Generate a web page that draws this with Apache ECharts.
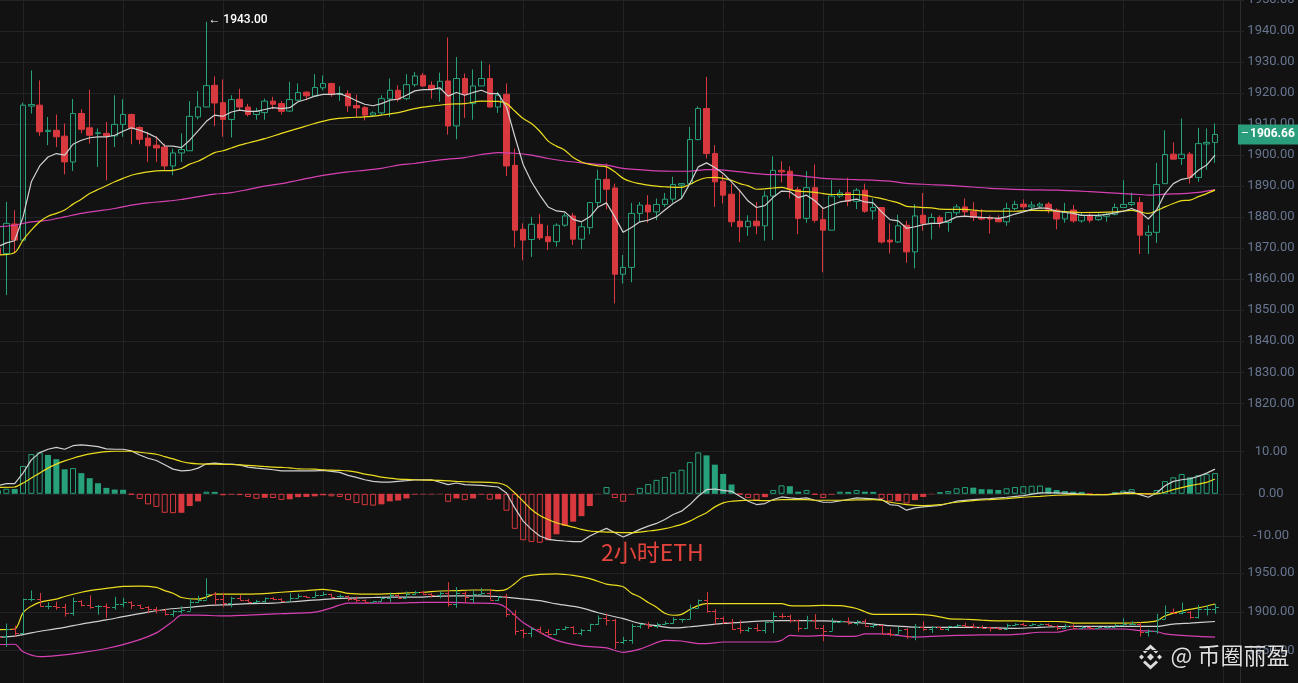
<!DOCTYPE html>
<html><head><meta charset="utf-8">
<script src="https://cdn.jsdelivr.net/npm/echarts/dist/echarts.min.js"></script>
<style>html,body{margin:0;padding:0;background:#121212;}#c{width:1298px;height:683px;}</style>
</head><body><div id="c"></div>
<script>
// ---------- data (2h ETH candles) ----------
const opens = [1870,1868.3,1877.8,1872.6,1915.8,1916.1,1907.6,1908,1906.1,1897.8,
1913.4,1908.8,1907,1907,1906.2,1909.9,1913.1,1908.9,1905.5,1903.2,
1902.6,1896.5,1900.7,1901.4,1912.3,1915.5,1922.5,1916.9,1911.5,1918,
1915.5,1913.1,1913.7,1917.4,1916.6,1914.2,1917.7,1920.3,1919,1921.7,
1923.1,1919.6,1919.8,1916,1915.3,1912.9,1913.6,1918.1,1920.9,1918.2,
1922.7,1925.7,1922.5,1921.2,1923.9,1909.4,1924.7,1916.6,1922.3,1924.7,
1915.5,1919.6,1896.7,1876.1,1872.8,1877.7,1873.7,1872.1,1877.4,1880.4,
1872.9,1876.6,1884.7,1892.2,1889.4,1861.6,1863.8,1881.2,1883.9,1881.7,
1884.1,1885.8,1890.3,1890.8,1905,1915,1900.5,1891.6,1887.4,1878.7,
1876.9,1878.7,1877.2,1886.8,1895.1,1894.8,1888.9,1879.6,1889.5,1879.2,
1875.8,1886.8,1887.9,1885.1,1888.7,1882,1883.1,1872.6,1872,1877.4,
1868.8,1880.6,1878,1879.9,1878.3,1881.4,1883.3,1881.9,1879.9,1879.9,
1879.6,1878.5,1882.8,1884.2,1883.3,1883.6,1884.2,1882.3,1879.4,1882.3,
1878.8,1880.6,1879.2,1880.3,1880.9,1883.1,1884.1,1884.7,1874.2,1875.1,
1890.8,1900.3,1898.9,1900.3,1892.8,1903.6,1904.1];
const highs = [1872,1884.9,1882.2,1916.9,1927.3,1924.1,1912.3,1913.1,1910.2,1918.1,
1914.8,1921.1,1908.6,1910.7,1919.3,1918,1913.4,1909.3,1907.5,1906.2,
1903.7,1902.1,1907,1917.4,1920.6,1943,1925.4,1924.4,1919.3,1921.4,
1916.5,1915.3,1918.2,1918.8,1917.4,1923.6,1923.1,1920.6,1926.1,1925.7,
1923.3,1922.2,1920.9,1919.5,1915.8,1914.1,1919.3,1924.7,1922.5,1926.1,
1926.8,1926.5,1923.8,1926.6,1937.9,1931.6,1926.3,1927.6,1930.4,1929.2,
1920.4,1923.1,1902.1,1878,1880.1,1881,1877.4,1878,1881.4,1881.4,
1878.2,1884.7,1895.3,1897.3,1890.8,1867.8,1884.6,1884.9,1887.1,1886,
1887.8,1893,1891,1909.1,1915.7,1925.2,1903.2,1893.7,1890.8,1888.9,
1880.6,1884.9,1888.4,1899.6,1898,1896.4,1889.8,1894.8,1897,1882.8,
1891.9,1888.9,1892.7,1889.4,1890.8,1886,1883.1,1878,1880.8,1878.8,
1884.2,1887.8,1881.2,1880.6,1881.7,1884.2,1886,1884.9,1882.6,1880.6,
1880.6,1884.6,1885.3,1885.7,1885.1,1884.8,1884.9,1882.8,1884.6,1883.9,
1881.4,1881.2,1881.2,1881.4,1884.4,1891.9,1887.9,1886.5,1877.4,1897.5,
1908,1904.1,1911.8,1901,1908.8,1908.6,1910.2];
const lows = [1866,1854.9,1868.3,1872,1913.4,1906.2,1903.2,1902.6,1893.8,1894.9,
1907,1903.7,1896.2,1891.9,1902.6,1905.9,1903.5,1903.5,1897.8,1897.8,
1895.1,1893.5,1897.8,1901.4,1911.5,1915.5,1909.3,1905.9,1905.7,1914.5,
1912.5,1911.4,1911.4,1914.8,1913.1,1913.9,1917.5,1917.7,1918.8,1920.9,
1918.8,1917.5,1913.9,1912.1,1911.2,1912.3,1912.9,1912.3,1917.2,1917.7,
1922,1922,1918.2,1917.2,1906.6,1905.1,1912,1911.4,1922.3,1915.5,
1913.6,1893.3,1870.2,1866.1,1867.2,1872.6,1869.4,1870.5,1876.9,1871,
1869.7,1874.5,1883.3,1882.5,1852.2,1858.6,1859,1878.5,1878.2,1879,
1883.3,1884.7,1886,1890.8,1904.8,1898.9,1883.3,1884.4,1876.9,1872,
1874,1874.5,1872.4,1872.6,1891.2,1886,1874.5,1878.2,1878.2,1862.2,
1875.8,1886.2,1883.5,1882.6,1881.4,1879.2,1871.5,1868.3,1871.7,1865.3,
1863.5,1875.6,1872.8,1876.7,1875.3,1880.6,1880.3,1878.8,1879,1874.7,
1878.5,1877.2,1882.2,1882.5,1882.3,1883.1,1881.2,1876.1,1878.2,1878.2,
1878.2,1878.2,1878.8,1878.5,1880.6,1883.1,1883.5,1868.1,1868.1,1871.7,
1890.8,1898.7,1896.8,1890.8,1891.4,1895.3,1897.5];
const closes = [1868,1878,1872.6,1916.1,1916.3,1907.5,1908,1905.9,1897.8,1913.4,
1908.3,1906.4,1907.2,1906.2,1909.9,1913.1,1908.6,1905.1,1903,1902.3,
1896.5,1900.7,1901.8,1912.5,1915.5,1922.4,1916.8,1911.5,1917.9,1915.5,
1913.1,1914.1,1917.4,1916.4,1914.1,1917.9,1920.2,1919.1,1921.8,1923.1,
1919.5,1919.9,1915.9,1915.2,1912.9,1913.6,1918.2,1920.9,1918,1922.7,
1925.5,1922.3,1921.2,1923.8,1909.4,1924.7,1919.5,1922.3,1924.7,1915.5,
1919.3,1896.5,1875.8,1872.6,1877.7,1873.3,1872.1,1877.4,1880.4,1872.9,
1876.9,1884.7,1892.2,1889,1861.6,1863.8,1881.2,1883.9,1881.7,1884.1,
1885.8,1890.5,1890.8,1905,1915,1900.5,1891.4,1887.1,1878.5,1876.9,
1878.7,1877.2,1886.8,1895.1,1894.6,1888.9,1879.6,1889.5,1879,1875.8,
1886.8,1887.8,1885.1,1888.7,1881.9,1883.1,1872,1872,1877.2,1868.8,
1880.4,1878,1879.9,1878.3,1881.5,1883.3,1881.7,1879.9,1879.4,1879.4,
1878.5,1882.8,1884.1,1883.3,1883.9,1884.2,1882.5,1879.4,1881.7,1878.8,
1880.6,1879,1880.3,1880.9,1883.1,1884.1,1884.7,1874.2,1875.1,1890.5,
1900.2,1898.7,1900.3,1892.8,1903.7,1904.1,1906.66];

// moving averages (top panel)
const maFast = [1870.5,1871.7,1872.4,1880,1891.4,1896.5,1899.4,1900.5,1900,1903.5,
1904.8,1905.6,1905.9,1905.9,1906.4,1907.7,1908.8,1908,1907,1905.7,
1903,1902.9,1902.4,1904.8,1907.8,1910.9,1912.9,1912.5,1913.9,1914.5,
1914.1,1914.1,1914.7,1915.3,1915,1915.3,1917.2,1918,1919,1919.6,
1919.6,1919.8,1918.8,1917.5,1916.4,1915.9,1916.6,1917.7,1918,1919.3,
1920.7,1921.1,1921.1,1921.7,1919,1920.2,1919.3,1920.2,1920.9,1919.8,
1919.8,1915.5,1906,1897,1891.4,1887.1,1883.3,1882,1881.7,1879.3,
1878.5,1880.1,1883.3,1884.6,1880.1,1875.1,1876.7,1878.5,1879,1880.1,
1882.3,1884.4,1886,1890.8,1896.2,1897.5,1896,1894.1,1891.4,1888.5,
1885.2,1883.1,1883.7,1886.4,1888.4,1888.2,1886.3,1887.1,1885.3,1882.8,
1883.9,1884.9,1885.3,1885.8,1884.9,1884.6,1881.7,1879.2,1878.8,1876.4,
1876.9,1877.6,1878,1878,1878.8,1880.1,1880.3,1880.1,1879.9,1879.8,
1879.6,1880.1,1881,1881.7,1882.5,1883,1882.8,1881.9,1881.5,1881.2,
1880.6,1880.6,1880.6,1880.9,1881.4,1881.9,1882.8,1881.7,1879.4,1882.3,
1887.6,1890.8,1892.2,1892.7,1895.1,1896.8,1900];
const maMid = [[0,1867.8],[2,1868.6],[3,1872.6],[4,1875.8],[5,1878.5],[6,1880.3],[7,1881.2],[8,1882.3],[9,1884.2],[10,1885.8],[11,1887.6],[12,1888.9],[13,1890.1],[14,1891.4],[15,1892.5],[16,1893.5],[17,1894.1],[18,1894.6],[19,1894.9],[20,1895],[21,1895.1],[22,1895.7],[23,1897.1],[24,1898],[25,1899.4],[26,1900.8],[27,1901.4],[28,1902.3],[29,1903.2],[30,1903.9],[31,1904.6],[32,1905.3],[34,1907],[36,1908.6],[38,1910.2],[40,1911.5],[42,1912.1],[44,1912.3],[46,1912.9],[48,1913.7],[50,1915],[52,1915.8],[54,1916.4],[56,1916.6],[58,1917.4],[60,1917.3],[61,1916.6],[62,1914.2],[63,1911.8],[64,1910.2],[65,1907.7],[66,1904.5],[67,1902.9],[68,1901.6],[69,1899.2],[70,1897.8],[71,1897],[72,1896.5],[73,1896.2],[74,1894.6],[75,1892.5],[76,1891.4],[77,1890.8],[78,1890.3],[79,1890],[80,1889.8],[82,1889.6],[83,1890.6],[84,1891.9],[85,1892.7],[86,1892.8],[87,1892.5],[88,1891.9],[89,1890.8],[90,1890.1],[91,1889],[92,1889.1],[93,1889.4],[94,1889.6],[95,1888.9],[96,1888.4],[97,1888.2],[98,1888],[99,1887.6],[100,1887.3],[103,1887.3],[104,1887.1],[105,1886.5],[106,1886],[107,1885.3],[108,1884.6],[109,1883.5],[110,1883.3],[111,1883.1],[112,1883],[113,1882.6],[116,1882.5],[117,1882.3],[118,1882],[122,1881.9],[124,1882.2],[126,1882.1],[130,1881.5],[134,1881.7],[136,1882.2],[137,1881.7],[138,1881.2],[139,1882.1],[140,1883.3],[141,1884.4],[142,1885.3],[143,1885.5],[144,1886.6],[145,1887.6],[146,1888.7]];
const maSlow = [[0,1876.9],[2,1877.4],[4,1878.5],[6,1879],[8,1880.1],[10,1881.2],[12,1882],[14,1882.8],[16,1883.9],[18,1884.6],[20,1885.1],[22,1885.7],[24,1886.6],[26,1887.4],[28,1887.9],[30,1888.9],[32,1890],[34,1890.8],[36,1891.9],[38,1893],[40,1893.9],[42,1894.6],[44,1895.1],[46,1895.7],[48,1896.8],[50,1897.3],[52,1898.1],[54,1898.7],[56,1899.2],[58,1900.2],[60,1900.8],[62,1900.6],[64,1900],[66,1898.9],[68,1898.1],[70,1897.5],[72,1897],[73,1896.8],[75,1895.7],[77,1895.3],[79,1894.9],[81,1894.8],[83,1894.8],[85,1895.3],[86,1895.3],[88,1894.9],[90,1894.3],[92,1893.8],[95,1893.6],[99,1892.5],[103,1892.1],[107,1891.6],[109,1890.9],[111,1890.6],[115,1890.1],[119,1889.3],[123,1888.9],[127,1888.7],[131,1888.2],[135,1887.6],[137,1887.3],[138,1887.1],[140,1887.4],[142,1887.6],[144,1888],[146,1888.9]];

// MACD panel
const macdHist = [0.8,1.2,1.15,6.6,9.4,9.8,9.2,8.2,5.8,6.1,
4.9,3.7,2.5,1.4,1.0,0.95,-0.2,-1.2,-2.5,-3.1,
-4.5,-4.6,-4.5,-2.9,-1.8,0.5,0.45,-0.35,-0.2,-0.3,
-0.75,-1.2,-0.95,-1.0,-1.45,-1.3,-0.8,-0.75,-0.6,-0.35,
-0.6,-0.75,-1.5,-2.2,-2.7,-2.8,-2.5,-1.8,-1.6,-1.1,
-0.2,-0.15,-0.15,-0.1,-1.9,-1.1,-1.5,-1.1,-0.2,-1.4,
-1.3,-4.0,-8.3,-11.0,-11.4,-11.6,-11.0,-9.6,-7.6,-6.6,
-5.3,-2.9,-0.1,1.6,-1.0,-1.9,-0.2,1.4,2.3,3.3,
4.0,5.1,5.7,7.5,9.8,9.1,6.9,4.7,2.2,-0.1,
-1.0,-1.6,-0.8,0.9,2.0,1.8,0.5,0.9,-0.2,-1.0,
-0.2,0.5,0.45,0.9,0.5,0.45,-1.2,-1.8,-1.75,-2.3,
-1.5,-0.75,-0.1,0.4,0.65,1.3,1.6,1.45,1.1,1.05,
0.9,1.3,1.6,1.8,1.9,1.95,1.45,0.9,0.65,0.5,
0.45,-0.1,-0.1,-0.1,0.4,0.75,1.1,-0.1,-0.15,0.9,
3.0,3.9,4.7,3.9,4.4,4.7,4.9];
const dif = [[0,1.92],[1,2.39],[2,2.39],[3,4.9],[4,8.04],[5,9.76],[6,10.55],[7,11.0],[8,10.55],[9,11.4],[10,11.57],[11,11.4],[12,11.18],[13,10.63],[14,10.55],[15,10.55],[16,10.16],[17,9.2],[18,8.43],[19,7.88],[20,6.86],[21,5.84],[22,5.45],[23,5.53],[24,6.08],[25,7.1],[26,7.25],[27,7.1],[28,7.02],[29,6.86],[30,6.31],[31,6.08],[32,5.92],[33,5.69],[34,5.45],[36,5.45],[38,5.45],[39,5.53],[40,5.29],[41,5.06],[42,4.35],[43,3.88],[44,3.33],[45,2.94],[46,2.78],[47,2.78],[48,2.94],[49,3.1],[50,3.3],[52,3.33],[54,2.16],[55,2.55],[56,2.16],[58,2.0],[60,1.61],[61,0.2],[62,-3.33],[63,-6.47],[64,-8.43],[65,-10.0],[66,-10.78],[67,-11.02],[68,-11.18],[69,-11.33],[70,-11.33],[71,-10.0],[72,-9.06],[73,-8.2],[74,-9.22],[75,-10.24],[76,-9.37],[77,-8.43],[78,-7.65],[79,-7.02],[80,-6.08],[81,-4.9],[82,-4.12],[83,-2.55],[84,-0.59],[85,0.98],[86,1.14],[87,0.82],[88,0.59],[89,-0.59],[90,-1.76],[91,-2.55],[92,-2.31],[93,-1.37],[94,-0.75],[95,-0.98],[96,-1.14],[97,-0.98],[98,-1.53],[99,-2.0],[100,-2.0],[101,-1.7],[103,-0.98],[105,-1.22],[106,-1.37],[107,-2.55],[108,-2.78],[109,-3.88],[110,-3.33],[111,-3.1],[113,-2.78],[115,-1.76],[117,-1.37],[119,-1.14],[121,-0.82],[123,-0.43],[125,0.2],[127,0.2],[129,0.04],[131,-0.2],[133,-0.2],[135,0.2],[136,0.43],[137,-0.2],[138,-0.82],[139,0.2],[140,1.92],[141,2.94],[142,3.33],[143,3.57],[144,4.12],[145,4.9],[146,5.84]];
const dea = [[0,1.53],[2,1.61],[3,2.55],[4,3.73],[5,4.9],[6,6.08],[7,7.02],[8,7.8],[9,8.43],[10,8.98],[11,9.45],[12,9.76],[13,10.0],[14,10.08],[16,10.08],[17,9.84],[18,9.61],[19,9.37],[20,8.82],[21,8.27],[22,7.65],[23,7.25],[24,7.1],[26,7.02],[28,6.94],[29,6.86],[30,6.71],[31,6.63],[32,6.47],[33,6.31],[34,6.24],[35,6.16],[36,5.92],[38,5.84],[39,5.69],[40,5.61],[41,5.53],[42,5.45],[43,5.14],[44,4.67],[45,4.35],[46,3.96],[47,3.73],[48,3.49],[49,3.41],[50,3.33],[53,3.18],[55,2.94],[57,2.78],[59,2.71],[60,2.55],[61,1.92],[62,0.2],[63,-1.76],[64,-3.73],[65,-5.14],[66,-6.08],[67,-6.86],[68,-7.41],[69,-7.88],[70,-8.43],[71,-8.82],[72,-8.98],[73,-9.06],[75,-9.22],[76,-9.22],[77,-9.06],[78,-8.82],[79,-8.59],[80,-8.27],[81,-7.8],[82,-7.25],[83,-6.47],[84,-5.45],[85,-4.51],[86,-3.1],[87,-2.16],[88,-1.76],[89,-1.61],[90,-1.53],[92,-1.61],[93,-1.53],[94,-1.37],[97,-1.37],[98,-1.53],[101,-1.53],[105,-1.37],[106,-1.53],[107,-2.0],[109,-2.55],[111,-2.78],[113,-2.55],[115,-2.0],[117,-1.61],[119,-1.37],[121,-1.14],[123,-0.82],[125,-0.59],[127,-0.35],[129,-0.2],[133,-0.2],[135,0.04],[137,0.04],[139,-0.04],[141,0.98],[143,1.92],[145,2.71],[146,3.49]];

// Bollinger bands (bottom panel)
const bollUp = [[0,1877.1],[2,1877.9],[3,1898.7],[4,1907.1],[5,1912.1],[7,1916.2],[8,1919.6],[10,1925],[11,1927.1],[13,1930],[15,1932.5],[17,1932.9],[19,1931.2],[20,1927.1],[21,1923.7],[22,1918.3],[24,1916.2],[25,1918.7],[26,1922.5],[28,1922.5],[31,1922.9],[34,1925],[37,1927.1],[39,1928.7],[41,1925.8],[42,1923.7],[45,1922.5],[48,1923.7],[51,1925],[53,1926.6],[55,1927.1],[57,1927.9],[59,1927.9],[60,1927.1],[61,1928.7],[62,1936.2],[63,1944.6],[65,1947.9],[67,1948.7],[69,1946.7],[71,1942.5],[73,1935.4],[75,1932.1],[76,1923.7],[77,1919],[78,1912],[79,1905.8],[80,1898],[81,1895.5],[82,1896.7],[83,1902.9],[84,1907.9],[85,1910.4],[88,1910.4],[91,1910.4],[94,1910.4],[95,1907.9],[97,1907.5],[99,1908.3],[101,1907.9],[103,1904.2],[104,1900],[105,1896.7],[107,1896.7],[110,1896.7],[112,1895.4],[114,1891.2],[116,1890.4],[118,1889.2],[120,1888.3],[122,1888.3],[124,1887.5],[127,1887.5],[128,1887.1],[129,1885.4],[132,1885.4],[135,1885.4],[137,1886.2],[139,1888.3],[140,1894.6],[142,1900.8],[144,1905],[146,1910]];
const bollMid = [[0,1867.5],[2,1868.7],[4,1872.9],[6,1876.6],[8,1880],[10,1884.2],[13,1889.6],[15,1893.7],[18,1899.6],[20,1902.9],[23,1905.8],[25,1907.9],[28,1909.2],[30,1910.4],[33,1911.2],[35,1912.5],[37,1914.2],[40,1916.6],[42,1917.5],[45,1918.3],[47,1918.7],[50,1918.7],[52,1919.6],[55,1920.4],[57,1920.4],[60,1919.6],[62,1917.5],[65,1914.2],[67,1910],[70,1905],[72,1898.7],[75,1891.2],[77,1885],[79,1882.1],[81,1879.2],[83,1880.8],[85,1882.9],[87,1885],[90,1887.1],[92,1888.3],[94,1888.7],[97,1888.7],[99,1888.3],[101,1887.5],[103,1886.2],[105,1884.2],[107,1882.1],[109,1880.8],[111,1880],[117,1880],[120,1879.2],[122,1878.7],[125,1880],[127,1880.8],[129,1881.2],[139,1881.2],[141,1884.2],[143,1885.4],[146,1887.5]];
const bollLow = [[0,1857.9],[2,1858.3],[3,1848.7],[5,1842.5],[7,1843.7],[10,1847.5],[13,1852.9],[15,1857.9],[17,1864.2],[19,1872.9],[20,1880],[21,1888],[22,1895.8],[24,1895.8],[27,1894.6],[30,1895.8],[34,1897.5],[38,1899.6],[40,1905],[42,1911.2],[45,1911.2],[48,1911.2],[51,1912.1],[54,1912.1],[57,1911.2],[60,1910],[61,1905],[63,1886.2],[65,1873.7],[67,1863.3],[70,1856.2],[73,1853.7],[75,1847.9],[76,1849.6],[77,1852.1],[78,1856],[80,1863.3],[82,1862.5],[84,1859.2],[85,1859.2],[87,1861.2],[93,1861.2],[94,1863.3],[95,1869.6],[97,1868.7],[99,1869.6],[101,1868.3],[103,1868.7],[104,1871.7],[106,1871.7],[108,1869.6],[110,1867.5],[112,1868.3],[115,1869.6],[118,1870.4],[121,1870.4],[123,1871.7],[125,1873.7],[127,1873.7],[129,1877.9],[135,1877.9],[137,1875.8],[139,1874.6],[140,1871.7],[142,1869.6],[144,1868.3],[146,1867.5]];

const priceTicks = [1820,1830,1840,1850,1860,1870,1880,1890,1900,1910,1920,1930,1940,1950];
const macdTicks = [-10,0,10];
const bollTicks = [1850,1900,1950];
const lastPrice = 1906.66;
const peakIndex = 25, peakPrice = 1943.00;
const slotCount = 150; // candle slots incl. empty right margin
const slots = Array.from({length: slotCount}, (_, i) => String(i));

// ---------- chart ----------
const UP = '#26a17b', DOWN = '#d8393e', GRIDC = '#222326', LABELC = '#67758f';
const WHITE = '#d0d0d0', YELLOW = '#ecdc1e', MAGENTA = '#d640b2';

const candleData = opens.map((o, i) => [o, closes[i], lows[i], highs[i]]);
const ohlcData = opens.map((o, i) => [i, o, highs[i], lows[i], closes[i]]);
const histData = macdHist.map((v, i) => {
  const prev = i > 0 ? macdHist[i - 1] : null;
  const hollow = prev !== null && (v >= 0 ? v > prev : v < prev);
  const c = v >= 0 ? UP : DOWN;
  return {value: v, itemStyle: hollow ? {color: 'rgba(0,0,0,0)', borderColor: c, borderWidth: 1} : {color: c, borderWidth: 0}};
});

function xAxisFor(gi) {
  return {
    type: 'category', gridIndex: gi, data: slots, boundaryGap: false,
    axisLabel: {show: false}, axisTick: {show: false},
    axisLine: {show: true, lineStyle: {color: GRIDC}},
    splitLine: {show: true, interval: (i) => (i - 3) % 12 === 0, lineStyle: {color: GRIDC}},
    axisPointer: {show: false}
  };
}
function yAxisFor(gi, min, max, ticks) {
  return {
    type: 'value', gridIndex: gi, position: 'right', min: min, max: max, scale: true,
    axisLine: {show: true, lineStyle: {color: '#2b2c30'}},
    axisTick: {show: true, length: 4, inside: false, customValues: ticks, lineStyle: {color: GRIDC}},
    axisLabel: {customValues: ticks, color: LABELC, fontSize: 13, fontFamily: 'Roboto', align: 'center', margin: 31,
      formatter: (v) => Number(v).toFixed(2)},
    splitLine: {show: true, lineStyle: {color: GRIDC}}
  };
}
const gridBase = {left: -2, right: 58, containLabel: false, outerBoundsMode: 'none'};

const chart = echarts.init(document.getElementById('c'), null, {renderer: 'canvas'});
chart.setOption({
  backgroundColor: '#121212',
  animation: false,
  grid: [
    Object.assign({top: 0, height: 425}, gridBase),
    Object.assign({top: 425, height: 128.3}, gridBase),
    Object.assign({top: 553.3, height: 129.7}, gridBase)
  ],
  xAxis: [xAxisFor(0), xAxisFor(1), xAxisFor(2)],
  yAxis: [
    yAxisFor(0, 1813, 1950, priceTicks),
    yAxisFor(1, -14.1, 16.3, macdTicks),
    yAxisFor(2, 1808.6, 1975, bollTicks)
  ],
  series: [
    {
      type: 'candlestick', xAxisIndex: 0, yAxisIndex: 0, data: candleData, barWidth: 6,
      itemStyle: {color: 'rgba(0,0,0,0)', color0: DOWN, borderColor: UP, borderColor0: DOWN, borderWidth: 1},
      markPoint: {
        symbol: 'circle', symbolSize: 0, silent: true,
        data: [{coord: [peakIndex, peakPrice], value: peakPrice}],
        label: {show: true, position: 'right', distance: 2, offset: [0, -2], color: '#ffffff', fontSize: 12,
          fontWeight: 500, fontFamily: 'Roboto', formatter: (p) => '← ' + Number(p.value).toFixed(2)}
      },
      markLine: {
        symbol: ['none', 'none'], silent: true,
        lineStyle: {color: 'rgba(0,0,0,0)', width: 1, type: 'solid'},
        data: [{yAxis: lastPrice}],
        label: {show: true, position: 'end', distance: -2, opacity: 1,
          backgroundColor: '#2a9d7c', padding: [2, 4, 2, 3],
          formatter: () => '{d|–}{v|' + lastPrice.toFixed(2) + '}',
          rich: {
            d: {color: '#ffffff', fontSize: 12, width: 9, lineHeight: 16, fontFamily: 'Roboto'},
            v: {color: '#ffffff', fontSize: 12, fontWeight: 'bold', lineHeight: 16, fontFamily: 'Roboto'}
          }}
      },
      z: 2
    },
    {type: 'line', xAxisIndex: 0, yAxisIndex: 0, data: maSlow, symbol: 'none', smooth: 0.3, lineStyle: {color: MAGENTA, width: 1.2}, z: 3},
    {type: 'line', xAxisIndex: 0, yAxisIndex: 0, data: maMid, symbol: 'none', smooth: 0.3, lineStyle: {color: YELLOW, width: 1.2}, z: 3},
    {type: 'line', xAxisIndex: 0, yAxisIndex: 0, data: maFast, symbol: 'none', lineStyle: {color: WHITE, width: 1.2}, z: 4},

    {type: 'bar', xAxisIndex: 1, yAxisIndex: 1, data: histData, barWidth: 6, z: 2},
    {type: 'line', xAxisIndex: 1, yAxisIndex: 1, data: dif, symbol: 'none', lineStyle: {color: WHITE, width: 1.2}, z: 3},
    {type: 'line', xAxisIndex: 1, yAxisIndex: 1, data: dea, symbol: 'none', smooth: 0.2, lineStyle: {color: YELLOW, width: 1.2}, z: 3},

    {type: 'line', xAxisIndex: 2, yAxisIndex: 2, data: bollUp, symbol: 'none', smooth: 0.3, lineStyle: {color: YELLOW, width: 1.2}, z: 3},
    {type: 'line', xAxisIndex: 2, yAxisIndex: 2, data: bollMid, symbol: 'none', smooth: 0.3, lineStyle: {color: WHITE, width: 1.2}, z: 3},
    {type: 'line', xAxisIndex: 2, yAxisIndex: 2, data: bollLow, symbol: 'none', smooth: 0.3, lineStyle: {color: MAGENTA, width: 1.2}, z: 3},
    {
      type: 'custom', xAxisIndex: 2, yAxisIndex: 2, data: ohlcData, encode: {x: 0, y: [1, 2, 3, 4]}, z: 4,
      renderItem: (params, api) => {
        const i = api.value(0), o = api.value(1), h = api.value(2), l = api.value(3), c = api.value(4);
        const pO = api.coord([i, o]), pH = api.coord([i, h]), pL = api.coord([i, l]), pC = api.coord([i, c]);
        const x = Math.round(pH[0]) + 0.5;
        const col = c >= o ? UP : DOWN;
        const st = {stroke: col, lineWidth: 1};
        const yo = Math.round(pO[1]) + 0.5, yc = Math.round(pC[1]) + 0.5;
        return {type: 'group', children: [
          {type: 'line', shape: {x1: x, y1: pH[1], x2: x, y2: pL[1]}, style: st},
          {type: 'line', shape: {x1: x - 3.5, y1: yo, x2: x, y2: yo}, style: st},
          {type: 'line', shape: {x1: x, y1: yc, x2: x + 3.5, y2: yc}, style: st}
        ]};
      }
    }
  ],
  graphic: [
    {type: 'text', left: 601, top: 541, z: 10, silent: true,
      style: {text: '2小时ETH', fill: '#e4433c', font: '23px "Noto Sans CJK SC", sans-serif'}},
    {type: 'group', left: 1139, top: 644, z: 10, silent: true, children: [
      {type: 'polygon', shape: {points: [[12, 8.5], [15.5, 12], [12, 15.5], [8.5, 12]]}, style: {fill: '#dcdcdc'}},
      {type: 'polygon', shape: {points: [[3, 9.5], [5.5, 12], [3, 14.5], [0.5, 12]]}, style: {fill: '#dcdcdc'}},
      {type: 'polygon', shape: {points: [[21, 9.5], [23.5, 12], [21, 14.5], [18.5, 12]]}, style: {fill: '#dcdcdc'}},
      {type: 'polyline', shape: {points: [[5.5, 7.5], [12, 1.5], [18.5, 7.5]]}, style: {stroke: '#dcdcdc', lineWidth: 3, fill: null}},
      {type: 'polyline', shape: {points: [[5.5, 16.5], [12, 22.5], [18.5, 16.5]]}, style: {stroke: '#dcdcdc', lineWidth: 3, fill: null}}
    ]},
    {type: 'text', left: 1170, top: 643, z: 10, silent: true,
      style: {text: '@ 币圈丽盈', fill: '#dedede', stroke: 'rgba(0,0,0,0.6)', lineWidth: 1,
        font: '23px "Noto Sans CJK SC", sans-serif'}}
  ]
});
</script>
</body></html>
